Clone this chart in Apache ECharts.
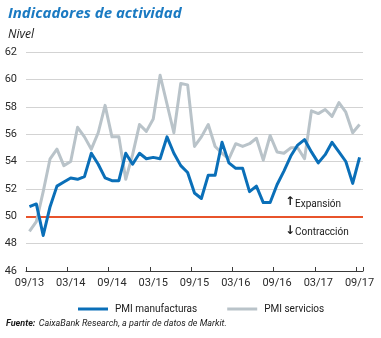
<!DOCTYPE html>
<html>
<head>
<meta charset="utf-8">
<script src="https://cdn.jsdelivr.net/npm/echarts@6/dist/echarts.min.js"></script>
<style>
  html, body { margin: 0; padding: 0; background: #ffffff; }
  #chart { width: 381px; height: 338px; }
</style>
</head>
<body>
<div id="chart"></div>
<script>
// Monthly periods, September 2013 to September 2017
const months = [
  '09/13','10/13','11/13','12/13',
  '01/14','02/14','03/14','04/14','05/14','06/14','07/14','08/14','09/14','10/14','11/14','12/14',
  '01/15','02/15','03/15','04/15','05/15','06/15','07/15','08/15','09/15','10/15','11/15','12/15',
  '01/16','02/16','03/16','04/16','05/16','06/16','07/16','08/16','09/16','10/16','11/16','12/16',
  '01/17','02/17','03/17','04/17','05/17','06/17','07/17','08/17','09/17'
];

// PMI manufacturas (nivel)
const pmiManufacturas = [
  50.7, 50.9, 48.6, 50.7,
  52.2, 52.5, 52.8, 52.7, 52.9, 54.6, 53.8, 52.8, 52.6, 52.6, 54.6, 53.8,
  54.6, 54.2, 54.3, 54.2, 55.8, 54.6, 53.7, 53.2, 51.7, 51.3, 53.0, 53.0,
  55.4, 53.9, 53.5, 53.5, 51.8, 52.2, 51.0, 51.0, 52.3, 53.3, 54.4, 55.2,
  55.6, 54.7, 53.9, 54.5, 55.4, 54.7, 54.0, 52.4, 54.3
];

// PMI servicios (nivel)
const pmiServicios = [
  48.9, 49.6, 51.8, 54.2,
  54.9, 53.7, 54.0, 56.5, 55.8, 54.9, 56.1, 58.1, 55.8, 55.8, 52.7, 54.5,
  56.7, 56.2, 57.1, 60.3, 58.2, 56.1, 59.7, 59.6, 55.1, 55.8, 56.7, 55.1,
  54.6, 54.2, 55.3, 55.1, 55.3, 55.7, 54.1, 55.9, 54.7, 54.6, 55.0, 55.0,
  54.2, 57.7, 57.5, 57.8, 57.3, 58.3, 57.6, 56.1, 56.7
];

// Threshold separating expansion from contraction
const umbral = 50;

const yMin = 46, yMax = 62, yStep = 2;

const FONT_TITLE = '"Open Sans", "Noto Sans", sans-serif';
const FONT = 'Roboto, "Open Sans", sans-serif';
const AZUL = '#0a6fb8';
const GRIS = '#b9c3c9';
const ROJO = '#e8532b';

const chart = echarts.init(document.getElementById('chart'), null, { renderer: 'canvas' });

chart.setOption({
  animation: false,
  backgroundColor: '#ffffff',
  textStyle: { fontFamily: FONT },
  title: {
    text: 'Indicadores de actividad',
    subtext: 'Nivel',
    left: 3,
    top: 1,
    itemGap: 8,
    textStyle: {
      fontFamily: FONT_TITLE, fontSize: 15, fontWeight: 'bold', fontStyle: 'italic',
      color: '#1a7ac2'
    },
    subtextStyle: {
      fontFamily: FONT_TITLE, fontSize: 12, fontStyle: 'italic', color: '#1a1a1a'
    }
  },
  grid: { left: 26, right: 18, top: 52, bottom: 67, containLabel: false },
  legend: {
    data: ['PMI manufacturas', 'PMI servicios'],
    left: 73,
    top: 299,
    icon: 'rect',
    itemWidth: 30,
    itemHeight: 3,
    itemGap: 30,
    textStyle: { fontFamily: FONT, fontSize: 10, color: '#1a1a1a', padding: [0, 0, 0, 2] }
  },
  xAxis: {
    type: 'category',
    data: months,
    boundaryGap: true,
    axisLine: { lineStyle: { color: '#3a3a3a', width: 1 } },
    axisTick: { show: true, inside: true, length: 4, interval: 5, lineStyle: { color: '#3a3a3a' } },
    axisLabel: { interval: 5, color: '#2a2a2a', fontSize: 11, margin: 7, fontFamily: FONT },
    splitLine: { show: false }
  },
  yAxis: {
    type: 'value',
    min: yMin,
    max: yMax,
    interval: yStep,
    axisLine: { show: false },
    axisTick: { show: false },
    axisLabel: { color: '#2a2a2a', fontSize: 11, margin: 9, fontFamily: FONT },
    splitLine: { lineStyle: { color: '#d3d3d3', width: 1 } }
  },
  graphic: [
    {
      type: 'text', left: 285, top: 196,
      style: { text: '↑', font: 'bold 12px "DejaVu Sans"', fill: '#1a1a1a' }
    },
    {
      type: 'text', left: 295, top: 199,
      style: { text: 'Expansión', font: '10px ' + FONT, fill: '#1a1a1a' }
    },
    {
      type: 'text', left: 285, top: 225,
      style: { text: '↓', font: 'bold 12px "DejaVu Sans"', fill: '#1a1a1a' }
    },
    {
      type: 'text', left: 295, top: 227,
      style: { text: 'Contracción', font: '10px ' + FONT, fill: '#1a1a1a' }
    },
    {
      type: 'text', left: 6, top: 318,
      style: {
        text: '{b|Fuente:} {i|CaixaBank Research, a partir de datos de Markit.}',
        rich: {
          b: { font: 'italic bold 9px ' + FONT, fill: '#1a1a1a' },
          i: { font: 'italic 9px ' + FONT, fill: '#1a1a1a' }
        }
      }
    }
  ],
  series: [
    {
      name: 'PMI servicios',
      type: 'line',
      data: pmiServicios,
      symbol: 'none',
      z: 2,
      itemStyle: { color: GRIS },
      lineStyle: { color: GRIS, width: 3, join: 'round' }
    },
    {
      name: 'PMI manufacturas',
      type: 'line',
      data: pmiManufacturas,
      symbol: 'none',
      z: 3,
      itemStyle: { color: AZUL },
      lineStyle: { color: AZUL, width: 3, join: 'round' },
      markLine: {
        silent: true,
        symbol: 'none',
        label: { show: false },
        lineStyle: { color: ROJO, width: 2, type: 'solid' },
        data: [{ yAxis: umbral }],
        z: 1
      }
    }
  ]
});
</script>
</body>
</html>
